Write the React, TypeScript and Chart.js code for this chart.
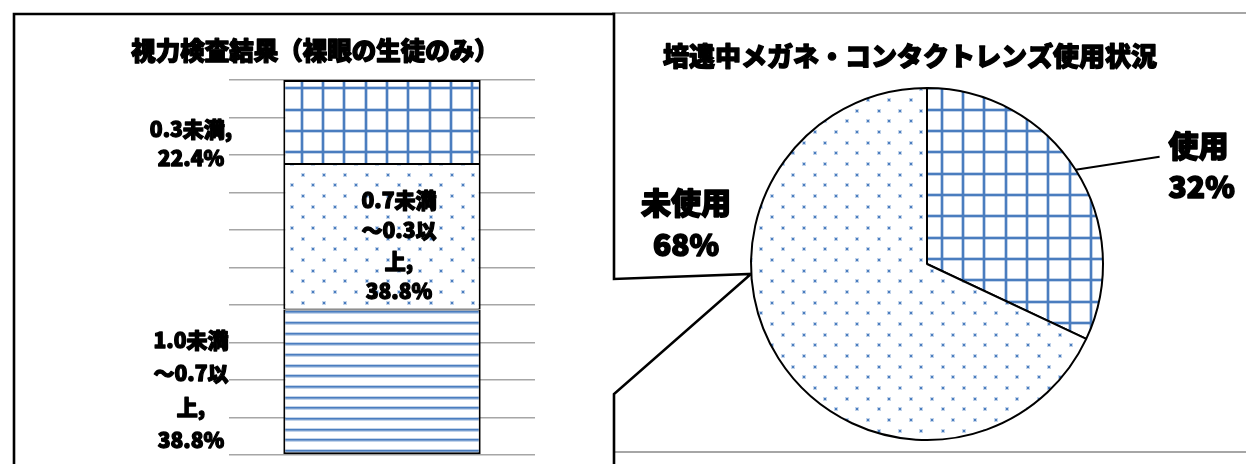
import React, { useEffect, useRef } from "react";
import { Chart, registerables } from "chart.js";

Chart.register(...registerables);

// ---------- data ----------
const barTitle = "視力検査結果（裸眼の生徒のみ）";
const barCategories = ["裸眼"];
const barSeriesNames = ["1.0未満～0.7以上", "0.7未満～0.3以上", "0.3未満"];
const barValues = [38.8, 38.8, 22.4];
const barLabelLines = [
  ["1.0未満", "～0.7以", "上,", "38.8%"],
  ["0.7未満", "～0.3以", "上,", "38.8%"],
  ["0.3未満,", "22.4%"],
];
const yMin = 0;
const yMax = 100;
const yStep = 10;

const pieTitle = "培遠中メガネ・コンタクトレンズ使用状況";
const pieLabels = ["使用", "未使用"];
const pieValues = [32, 68];
const pieValueTexts = ["32%", "68%"];

// ---------- styles / layout ----------
const W = 1246;
const H = 464;
const BLUE = "#4a7dbf";
const BLUE_LIGHT = "rgba(74,125,191,0.33)";
const FONT = "'Noto Sans CJK JP', 'Noto Sans CJK SC', sans-serif";

function heavyText(ctx: CanvasRenderingContext2D, t: string, x: number, y: number, sw: number) {
  ctx.lineWidth = sw;
  ctx.strokeStyle = "#000";
  ctx.lineJoin = "round";
  ctx.strokeText(t, x, y);
  ctx.fillText(t, x, y);
}

function makePattern(kind: "grid" | "dots" | "hlines"): CanvasPattern {
  const T = 64;
  const c = document.createElement("canvas");
  c.width = T;
  c.height = T;
  const g = c.getContext("2d")!;
  g.fillStyle = "#fff";
  g.fillRect(0, 0, T, T);
  if (kind === "grid") {
    const step = T / 3;
    for (let k = 0; k < 3; k++) {
      const p = Math.round(k * step) + 2;
      g.fillStyle = BLUE_LIGHT;
      g.fillRect(p - 1, 0, 4, T);
      g.fillRect(0, p - 1, T, 4);
    }
    for (let k = 0; k < 3; k++) {
      const p = Math.round(k * step) + 2;
      g.fillStyle = BLUE;
      g.fillRect(p, 0, 2, T);
      g.fillRect(0, p, T, 2);
    }
  } else if (kind === "dots") {
    const step = T / 3;
    const pts: [number, number][] = [];
    for (let i = 0; i < 3; i++) {
      for (let j = 0; j < 3; j++) {
        pts.push([Math.round(i * step) + 3, Math.round(j * step) + 3]);
        pts.push([Math.round(i * step + step / 2) + 3, Math.round(j * step + step / 2) + 3]);
      }
    }
    for (const [x, y] of pts) {
      g.fillStyle = BLUE_LIGHT;
      g.fillRect(x - 1, y - 1, 4, 4);
    }
    for (const [x, y] of pts) {
      g.fillStyle = BLUE;
      g.fillRect(x, y, 2, 2);
    }
  } else {
    const step = T / 6;
    for (let k = 0; k < 6; k++) {
      const p = Math.round(k * step) + 2;
      g.fillStyle = BLUE_LIGHT;
      g.fillRect(0, p - 1, T, 4);
    }
    for (let k = 0; k < 6; k++) {
      const p = Math.round(k * step) + 2;
      g.fillStyle = BLUE;
      g.fillRect(0, p, T, 1.6);
    }
  }
  return g.createPattern(c, "repeat")!;
}

// label placement relative to each bar segment (layout only)
const barLabelPlace = [
  { dx: -191, dy: 8, lh: 33.5 }, // outside left
  { dx: 17, dy: 9, lh: 30.5 }, // inside
  { dx: -191, dy: 22, lh: 29 }, // outside left
];

const decorPlugin = {
  id: "decor",
  beforeDraw(chart: any) {
    const ctx = chart.ctx as CanvasRenderingContext2D;
    ctx.save();
    ctx.fillStyle = "#fff";
    ctx.fillRect(0, 0, W, H);
    // right panel frame lines
    ctx.strokeStyle = "#a6a6a6";
    ctx.lineWidth = 2;
    ctx.beginPath();
    ctx.moveTo(612, 13);
    ctx.lineTo(W, 13);
    ctx.moveTo(612, 452);
    ctx.lineTo(W, 452);
    ctx.stroke();
    // left callout box
    ctx.beginPath();
    ctx.moveTo(14, 14);
    ctx.lineTo(614, 14);
    ctx.lineTo(614, 279);
    ctx.lineTo(751, 274);
    ctx.lineTo(614, 394);
    ctx.lineTo(614, H + 10);
    ctx.lineTo(14, H + 10);
    ctx.closePath();
    ctx.fillStyle = "#fff";
    ctx.fill();
    ctx.strokeStyle = "#000";
    ctx.lineWidth = 2.6;
    ctx.lineJoin = "miter";
    ctx.stroke();
    // title
    ctx.fillStyle = "#000";
    ctx.font = `900 24.5px ${FONT}`;
    ctx.textAlign = "center";
    ctx.textBaseline = "middle";
    heavyText(ctx, barTitle, 315, 51, 1.4);
    ctx.restore();
  },
};

const barLabelPlugin = {
  id: "barLabels",
  afterDatasetsDraw(chart: any) {
    const ctx = chart.ctx as CanvasRenderingContext2D;
    ctx.save();
    ctx.fillStyle = "#000";
    ctx.font = `900 21px ${FONT}`;
    ctx.textAlign = "center";
    ctx.textBaseline = "middle";
    chart.data.datasets.forEach((_: any, i: number) => {
      const el = chart.getDatasetMeta(i).data[0];
      const { x, y, base } = el.getProps(["x", "y", "base"], true);
      const cy = (y + base) / 2;
      const pl = barLabelPlace[i];
      const lines = barLabelLines[i];
      const cx = x + pl.dx;
      const start = cy + pl.dy - ((lines.length - 1) * pl.lh) / 2;
      lines.forEach((t, k) => heavyText(ctx, t, cx, start + k * pl.lh, 1.3));
    });
    ctx.restore();
  },
};

const pieLabelPlugin = {
  id: "pieLabels",
  afterDraw(chart: any) {
    const ctx = chart.ctx as CanvasRenderingContext2D;
    ctx.save();
    ctx.fillStyle = "#000";
    ctx.textBaseline = "middle";
    // title
    ctx.font = `900 26px ${FONT}`;
    ctx.textAlign = "center";
    heavyText(ctx, pieTitle, 910, 56, 1.4);

    const arcs = chart.getDatasetMeta(0).data;
    // 使用 slice: leader line + label on the right
    {
      const { x, y, startAngle, endAngle, outerRadius } = arcs[0].getProps(
        ["x", "y", "startAngle", "endAngle", "outerRadius"],
        true
      );
      const mid = (startAngle + endAngle) / 2;
      const p1x = x + Math.cos(mid) * outerRadius;
      const p1y = y + Math.sin(mid) * outerRadius;
      const p2x = p1x + 84;
      const p2y = p1y - 13;
      ctx.strokeStyle = "#000";
      ctx.lineWidth = 2;
      ctx.beginPath();
      ctx.moveTo(p1x, p1y);
      ctx.lineTo(p2x, p2y);
      ctx.stroke();
      ctx.font = `900 30px ${FONT}`;
      ctx.textAlign = "left";
      heavyText(ctx, pieLabels[0], p2x + 9, p2y - 11, 1.6);
      heavyText(ctx, pieValueTexts[0], p2x + 9, p2y + 30, 1.6);
    }
    // 未使用 slice: label on the left
    {
      const { x, y, outerRadius } = arcs[1].getProps(["x", "y", "outerRadius"], true);
      const lx = x - outerRadius - 65;
      ctx.font = `900 30px ${FONT}`;
      ctx.textAlign = "center";
      heavyText(ctx, pieLabels[1], lx, y - 61, 1.6);
      heavyText(ctx, pieValueTexts[1], lx, y - 19, 1.6);
    }
    ctx.restore();
  },
};

export default function App() {
  const aRef = useRef<HTMLCanvasElement>(null);
  const bRef = useRef<HTMLCanvasElement>(null);

  useEffect(() => {
    const gridP = makePattern("grid");
    const dotP = makePattern("dots");
    const lineP = makePattern("hlines");
    const barPatterns = [lineP, dotP, gridP];

    const n = barValues.length;
    const barChart = new Chart(aRef.current!, {
      type: "bar",
      data: {
        labels: barCategories,
        datasets: barValues.map((v, i) => ({
          label: barSeriesNames[i],
          data: [v],
          backgroundColor: barPatterns[i],
          borderColor: "#000",
          borderWidth: {
            left: 2,
            right: 2,
            top: i === n - 1 ? 2 : 1,
            bottom: i === 0 ? 2 : 1,
          },
          borderSkipped: false,
          barPercentage: 0.645,
          categoryPercentage: 1,
        })),
      },
      options: {
        responsive: false,
        animation: false,
        layout: { padding: { left: 229, right: W - 535, top: 80, bottom: H - 455 } },
        scales: {
          x: { stacked: true, display: false },
          y: {
            stacked: true,
            min: yMin,
            max: yMax,
            ticks: { display: false, stepSize: yStep },
            grid: { color: "#a6a6a6", lineWidth: 1.6, drawTicks: false },
            border: { display: false },
          },
        },
        plugins: {
          legend: { display: false },
          tooltip: { enabled: false },
          title: { display: false },
        },
      },
      plugins: [decorPlugin, barLabelPlugin],
    });

    const pieChart = new Chart(bRef.current!, {
      type: "pie",
      data: {
        labels: pieLabels,
        datasets: [
          {
            data: pieValues,
            backgroundColor: [gridP, dotP],
            borderColor: "#000",
            borderWidth: 2,
            radius: 176,
          } as any,
        ],
      },
      options: {
        responsive: false,
        animation: false,
        layout: { padding: { left: 751, right: W - 1103, top: 88, bottom: H - 440 } },
        plugins: {
          legend: { display: false },
          tooltip: { enabled: false },
          title: { display: false },
        },
      },
      plugins: [pieLabelPlugin],
    });

    return () => {
      barChart.destroy();
      pieChart.destroy();
    };
  }, []);

  return (
    <div
      style={{
        position: "absolute",
        left: 0,
        top: 0,
        width: W,
        height: H,
        overflow: "hidden",
        background: "#fff",
      }}
    >
      <canvas ref={aRef} width={W} height={H} style={{ position: "absolute", left: 0, top: 0 }} />
      <canvas ref={bRef} width={W} height={H} style={{ position: "absolute", left: 0, top: 0 }} />
    </div>
  );
}
